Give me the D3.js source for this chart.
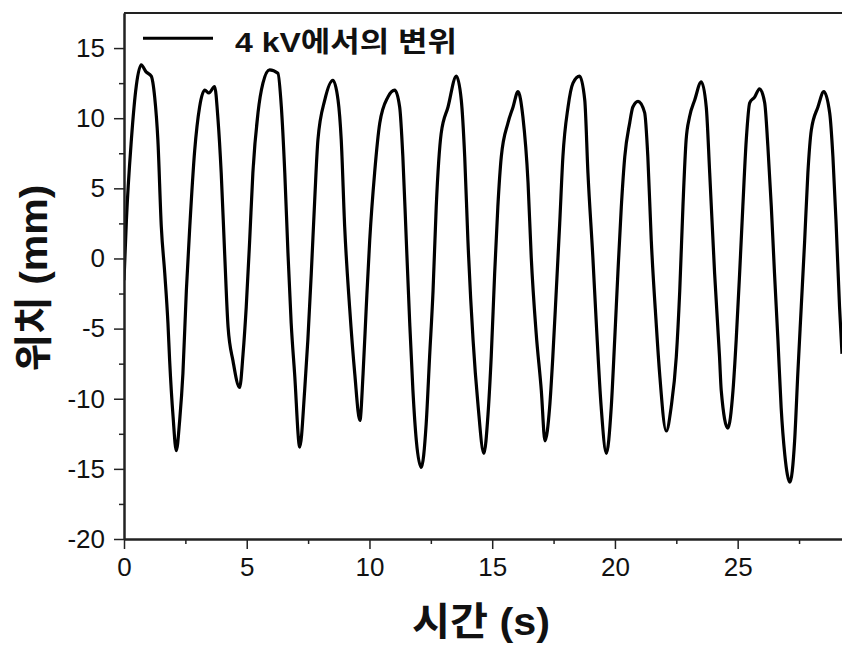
<!DOCTYPE html>
<html>
<head>
<meta charset="utf-8">
<script src="https://cdn.jsdelivr.net/npm/d3@7"></script>
<style>
  body { margin: 0; background: #fff; }
  svg { display: block; font-family: "Liberation Sans", Arial, "Noto Sans CJK KR", sans-serif; }
</style>
</head>
<body>
<div id="chart"></div>
<script>
// time (s) and displacement (mm)
var time = [0.00,0.10,0.30,0.50,0.70,0.90,1.11,1.25,1.38,1.52,1.66,1.79,1.86,2.00,2.13,2.27,2.40,2.54,2.68,2.88,
            3.08,3.29,3.46,3.69,3.83,3.96,4.10,4.24,4.44,4.71,4.85,4.98,5.12,5.25,5.46,5.66,5.93,6.27,6.41,6.55,
            6.68,6.81,6.95,7.16,7.36,7.49,7.63,7.77,7.90,8.18,8.51,8.72,8.85,8.99,9.19,9.40,9.61,9.74,9.87,10.01,
            10.21,10.42,10.75,11.03,11.23,11.36,11.50,11.64,11.77,11.91,12.11,12.31,12.45,12.59,12.72,12.92,13.20,13.54,13.74,13.88,
            14.01,14.22,14.42,14.66,14.83,14.96,15.10,15.23,15.37,15.64,15.85,16.05,16.25,16.46,16.59,16.79,17.00,17.15,17.34,17.47,
            17.61,17.75,17.88,18.09,18.29,18.56,18.77,18.90,19.10,19.24,19.44,19.65,19.85,19.99,20.12,20.26,20.40,20.60,20.73,20.94,
            21.21,21.34,21.48,21.68,21.82,22.09,22.29,22.50,22.64,22.77,22.90,23.04,23.25,23.52,23.72,23.86,24.06,24.26,24.33,24.60,
            24.81,24.94,25.08,25.21,25.35,25.49,25.69,25.89,26.10,26.23,26.37,26.50,26.64,26.77,26.92,27.13,27.32,27.45,27.59,27.73,
            27.86,28.00,28.27,28.51,28.75,28.88,29.01,29.15,29.25];
var position = [-1.55,2.8,8.45,12.3,13.8,13.3,13.0,11.5,8.45,2.26,-1.05,-4.6,-7.3,-11.3,-13.7,-11.5,-8.2,-2.3,2.26,7.7,
            10.8,12.0,11.8,12.25,9.9,6.1,0.38,-4.9,-7.3,-9.2,-6.8,-3.45,1.3,6.1,10.4,12.5,13.45,13.2,10.8,6.1,
            0.38,-4.6,-8.2,-13.45,-9.4,-5.8,-1.05,4.2,8.45,11.3,12.7,11.3,8.45,2.26,-3.45,-8.2,-11.55,-8.2,-3.45,1.3,
            6.1,9.65,11.5,12.0,10.8,7.25,1.3,-4.6,-9.4,-13.0,-14.9,-11.8,-7.0,-2.3,3.7,8.9,10.8,13.0,11.3,7.25,
            1.3,-5.8,-10.4,-13.9,-11.1,-7.0,-1.05,3.7,7.25,9.65,10.8,11.9,10.1,5.4,0.1,-5.3,-9.4,-13.0,-10.6,-7.0,
            -2.3,2.5,7.25,10.8,12.5,13.0,11.3,6.1,0.1,-4.6,-10.6,-13.9,-10.6,-5.8,-1.05,3.7,7.25,9.65,10.8,11.2,
            10.4,7.25,1.3,-4.6,-8.2,-12.3,-10.6,-7.0,-2.3,3.7,8.45,10.1,11.3,12.6,10.8,6.1,-1.05,-7.0,-9.4,-12.1,
            -9.4,-5.8,-1.05,3.7,8.45,11.1,11.5,12.1,11.1,8.0,3.7,-1.05,-5.8,-10.6,-14.0,-15.95,-13.0,-8.2,-3.45,1.3,
            6.1,9.15,10.8,11.9,10.35,7.25,2.5,-3.45,-6.8];

var xTicks = [0, 5, 10, 15, 20, 25];
var xMinor = [2.5, 7.5, 12.5, 17.5, 22.5, 27.5];
var yTicks = [-20, -15, -10, -5, 0, 5, 10, 15];
var yMinor = [-17.5, -12.5, -7.5, -2.5, 2.5, 7.5, 12.5];
var seriesName = "4 kV에서의 변위";
var xTitle = "시간 (s)";
var yTitle = "위치 (mm)";

var margin = {top: 13, right: 0, bottom: 106, left: 124},
    W = 842, H = 645,
    width = W - margin.left - margin.right,
    height = H - margin.top - margin.bottom;

var svg = d3.select("#chart").append("svg")
    .attr("width", W)
    .attr("height", H);

var g = svg.append("g")
    .attr("transform", "translate(" + margin.left + "," + margin.top + ")");

var x = d3.scaleLinear().domain([0, 29.25]).range([0, width]);
var y = d3.scaleLinear().domain([-20, 17.5]).range([height, 0]);

g.append("clipPath").attr("id", "clip")
  .append("rect").attr("width", width).attr("height", height);

var pts = time.map(function(t, i) { return [t, position[i]]; });

var line = d3.line()
    .curve(d3.curveMonotoneX)
    .x(function(d) { return x(d[0]); })
    .y(function(d) { return y(d[1]); });

g.append("path")
    .datum(pts)
    .attr("clip-path", "url(#clip)")
    .attr("fill", "none")
    .attr("stroke", "#000")
    .attr("stroke-width", 3.2)
    .attr("stroke-linejoin", "round")
    .attr("d", line);

// frame (top edge)
g.append("line")
    .attr("x1", 0).attr("x2", width)
    .attr("y1", 0).attr("y2", 0)
    .attr("stroke", "#222").attr("stroke-width", 2);

function fmt(d) { return String(d); }

g.append("g")
    .attr("transform", "translate(0," + height + ")")
    .call(d3.axisBottom(x).tickValues(xTicks).tickFormat(fmt).tickSize(10).tickSizeOuter(0).tickPadding(9));
g.append("g")
    .attr("transform", "translate(0," + height + ")")
    .call(d3.axisBottom(x).tickValues(xMinor).tickFormat("").tickSize(5).tickSizeOuter(0));

g.append("g")
    .call(d3.axisLeft(y).tickValues(yTicks).tickFormat(fmt).tickSize(10).tickSizeOuter(0).tickPadding(9));
g.append("g")
    .call(d3.axisLeft(y).tickValues(yMinor).tickFormat("").tickSize(5).tickSizeOuter(0));

g.selectAll(".domain").attr("stroke", "#222").attr("stroke-width", 2);
g.selectAll(".tick line").attr("stroke", "#222").attr("stroke-width", 1.5);
g.selectAll(".tick text")
    .attr("fill", "#111")
    .style("font-size", "26px")
    .style("font-family", "'Liberation Sans', Arial, sans-serif");

// legend
g.append("line")
    .attr("x1", 19).attr("x2", 89)
    .attr("y1", y(15.7)).attr("y2", y(15.7))
    .attr("stroke", "#000").attr("stroke-width", 3);
g.append("text")
    .attr("x", 111)
    .attr("y", y(14.75))
    .attr("fill", "#111")
    .attr("textLength", 222)
    .attr("lengthAdjust", "spacingAndGlyphs")
    .style("font-size", "28px")
    .style("font-weight", "bold")
    .text(seriesName);

// axis titles
svg.append("text")
    .attr("x", margin.left + width / 2 - 2)
    .attr("y", 635)
    .attr("text-anchor", "middle")
    .attr("fill", "#111")
    .attr("textLength", 138)
    .attr("lengthAdjust", "spacingAndGlyphs")
    .style("font-size", "39px")
    .style("font-weight", "bold")
    .text(xTitle);

svg.append("text")
    .attr("transform", "translate(47," + (margin.top + y(-1.4)) + ") rotate(-90)")
    .attr("text-anchor", "middle")
    .attr("fill", "#111")
    .attr("textLength", 187)
    .attr("lengthAdjust", "spacingAndGlyphs")
    .style("font-size", "39px")
    .style("font-weight", "bold")
    .text(yTitle);
</script>
</body>
</html>
